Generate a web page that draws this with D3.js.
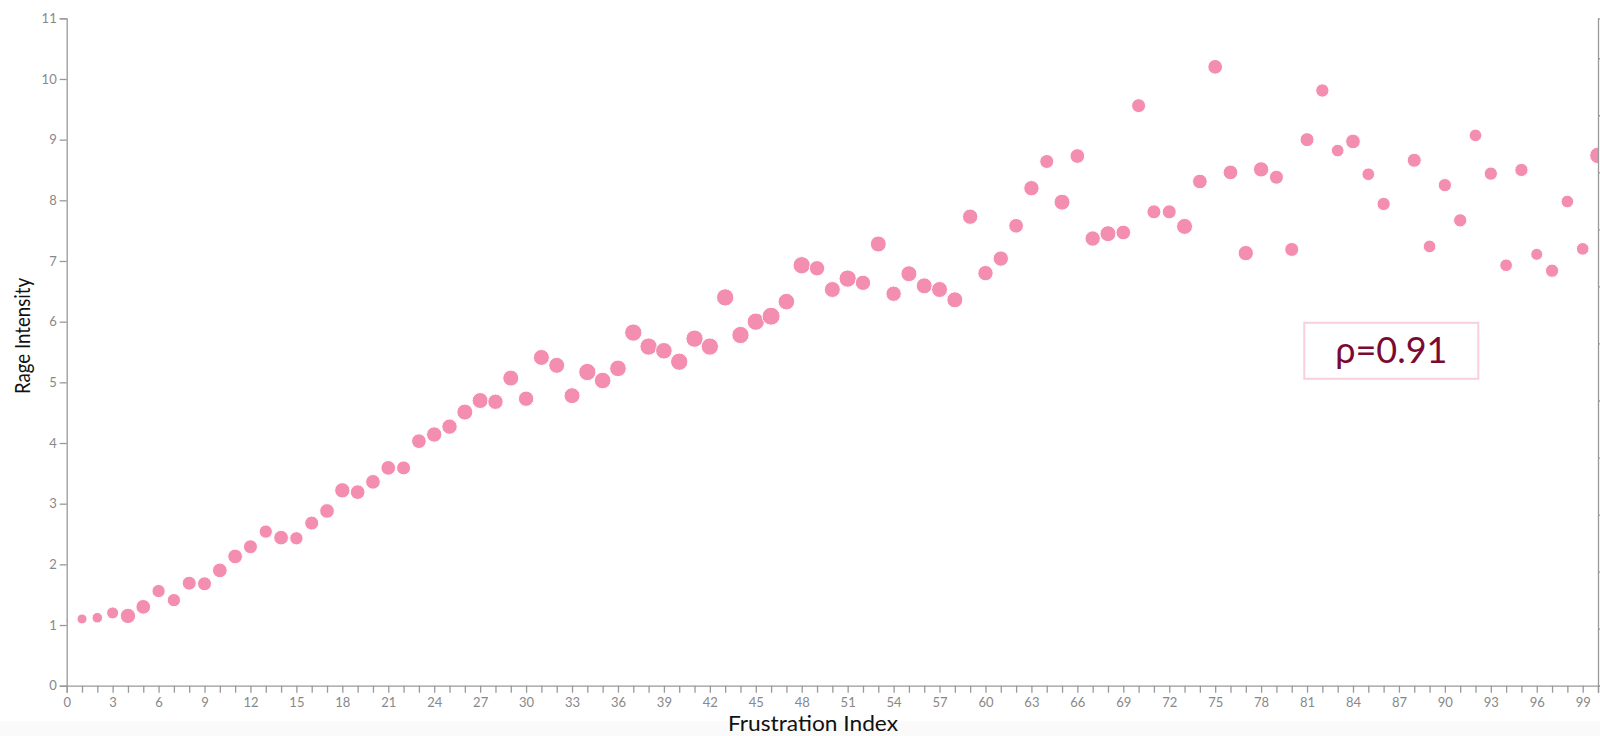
<!DOCTYPE html>
<html>
<head>
<meta charset="utf-8">
<script src="https://cdn.jsdelivr.net/npm/d3@7"></script>
<style>
  body { margin: 0; background: #fff; }
  #chart { width: 1600px; height: 736px; overflow: hidden; }
  .axis text { font-family: Lato, sans-serif; font-size: 13px; fill: #888; }
  .axis path, .axis line { stroke: #999; stroke-width: 1.3px; }
</style>
</head>
<body>
<div id="chart"></div>
<script>
// frustration index (x), rage intensity (y), and bubble volume
const frustration = [0,1,2,3,4,5,6,7,8,9,10,11,12,13,14,15,16,17,18,19,20,21,22,23,24,25,26,27,28,29,
  30,31,32,33,34,35,36,37,38,39,40,41,42,43,44,45,46,47,48,49,50,51,52,53,54,55,56,57,58,59,
  60,61,62,63,64,65,66,67,68,69,70,71,72,73,74,75,76,77,78,79,80,81,82,83,84,85,86,88,89,
  90,91,92,93,94,95,96,97,98,99,100];

const rage = [1.07,1.10,1.12,1.20,1.15,1.30,1.56,1.41,1.69,1.68,1.90,2.13,2.29,2.54,2.44,2.43,2.68,2.88,3.22,3.19,
  3.36,3.59,3.59,4.03,4.14,4.27,4.51,4.70,4.68,5.07,4.73,5.41,5.28,4.78,5.17,5.03,5.23,5.82,5.59,5.52,
  5.34,5.72,5.59,6.40,5.78,6.00,6.09,6.33,6.93,6.88,6.53,6.71,6.64,7.28,6.46,6.79,6.59,6.53,6.36,7.73,
  6.80,7.04,7.58,8.20,8.64,7.97,8.73,7.37,7.45,7.47,9.56,7.81,7.81,7.57,8.31,10.20,8.46,7.13,8.51,8.38,
  7.19,9.00,9.81,8.82,8.97,8.43,7.94,8.66,7.24,8.25,7.67,9.07,8.44,6.93,8.50,7.11,6.84,7.98,7.20,8.74];

const volume = [2,25,28,36,59,54,44,44,49,49,54,54,49,44,54,44,49,54,59,54,
  54,54,49,54,59,59,64,64,59,64,59,64,64,64,75,69,69,75,75,69,
  75,75,75,75,75,75,81,69,75,59,64,75,59,64,59,64,64,64,64,59,
  59,59,54,59,49,64,54,59,64,54,49,49,49,64,54,54,54,59,59,49,
  49,49,44,40,54,40,44,49,40,44,44,40,44,40,44,36,44,40,40,69];

const xLabelTicks = [0,3,6,9,12,15,18,21,24,27,30,33,36,39,42,45,48,51,54,57,60,63,66,69,72,75,78,81,84,87,90,93,96,99];
const yTicks = [0,1,2,3,4,5,6,7,8,9,10,11];
const y2Ticks = [0,1,2,3,4,5,6,7,8,9,10,11];

const rhoLabel = "ρ=0.91";
const rhoAt = { x: 86.5, y: 5.52 };

const data = frustration.map((f, i) => ({ f: f, r: rage[i], v: volume[i] }));

// chart settings
const width = 1600;
const height = 736;
const plotLeft = 66.7, plotRight = 1598, plotTop = 18.3, plotBottom = 685.7;

const xScale = d3.scaleLinear().domain([0, 100]).range([plotLeft, plotRight]);
const yScale = d3.scaleLinear().domain([0, 11]).range([plotBottom, plotTop]);
const y2Scale = d3.scaleLinear().domain([0, 11.7]).range([plotBottom, plotTop]);
const rScale = d3.scaleSqrt().domain([0, 81]).range([0, 9]);

const svg = d3.select("#chart").append("svg")
  .attr("width", width)
  .attr("height", height);

// faint band under the chart
svg.append("rect")
  .attr("x", 0).attr("y", 721)
  .attr("width", width).attr("height", height - 721)
  .attr("fill", "#fafafa");

svg.append("clipPath").attr("id", "plot-clip")
  .append("rect")
  .attr("x", plotLeft).attr("y", 0)
  .attr("width", plotRight - plotLeft).attr("height", plotBottom);

// points
svg.append("g")
  .attr("clip-path", "url(#plot-clip)")
  .selectAll("circle")
  .data(data)
  .enter()
  .append("circle")
  .attr("cx", d => xScale(d.f))
  .attr("cy", d => yScale(d.r))
  .attr("r", d => rScale(d.v))
  .attr("fill", "#e91e63")
  .attr("fill-opacity", 0.5)
  .attr("stroke", "#fff")
  .attr("stroke-width", 1);

// x-axis: a tick at every index, a label every third
const xAxis = d3.axisBottom(xScale)
  .tickValues(d3.range(0, 101))
  .tickSize(7)
  .tickFormat(d => xLabelTicks.includes(d) ? d : "");

const gx = svg.append("g")
  .attr("class", "axis")
  .attr("transform", "translate(0," + plotBottom + ")")
  .call(xAxis);
gx.selectAll("text").attr("dy", "0.9em");
gx.selectAll(".tick text").filter(d => !xLabelTicks.includes(d)).remove();

// y-axis
svg.append("g")
  .attr("class", "axis")
  .attr("transform", "translate(" + plotLeft + ",0)")
  .call(d3.axisLeft(yScale).tickValues(yTicks).tickSize(7));

// secondary axis on the right edge
const gy2 = svg.append("g")
  .attr("class", "axis")
  .attr("transform", "translate(" + plotRight + ",0)")
  .call(d3.axisRight(y2Scale).tickValues(y2Ticks).tickSize(6));
gy2.selectAll(".tick text").remove();

// axis titles (squeezed a little, the original face is narrower than Lato)
svg.append("text")
  .attr("x", 813)
  .attr("y", 731)
  .attr("text-anchor", "middle")
  .attr("textLength", 170)
  .attr("lengthAdjust", "spacingAndGlyphs")
  .style("font-family", "Lato, sans-serif")
  .style("font-size", "22px")
  .attr("fill", "#111")
  .text("Frustration Index");

svg.append("text")
  .attr("transform", "translate(30," + 336 + ") rotate(-90)")
  .attr("text-anchor", "middle")
  .attr("textLength", 116)
  .attr("lengthAdjust", "spacingAndGlyphs")
  .style("font-family", "Lato, sans-serif")
  .style("font-size", "22px")
  .attr("fill", "#111")
  .text("Rage Intensity");

// correlation box
const bx = xScale(rhoAt.x), by = yScale(rhoAt.y);
svg.append("rect")
  .attr("x", bx - 87).attr("y", by - 28)
  .attr("width", 174).attr("height", 56)
  .attr("fill", "#fff")
  .attr("stroke", "#f8d0dc")
  .attr("stroke-width", 2);

svg.append("text")
  .attr("x", bx)
  .attr("y", by + 12)
  .attr("text-anchor", "middle")
  .style("font-family", "Lato, sans-serif")
  .style("font-size", "36px")
  .attr("fill", "#7b0a33")
  .text(rhoLabel);
</script>
</body>
</html>
